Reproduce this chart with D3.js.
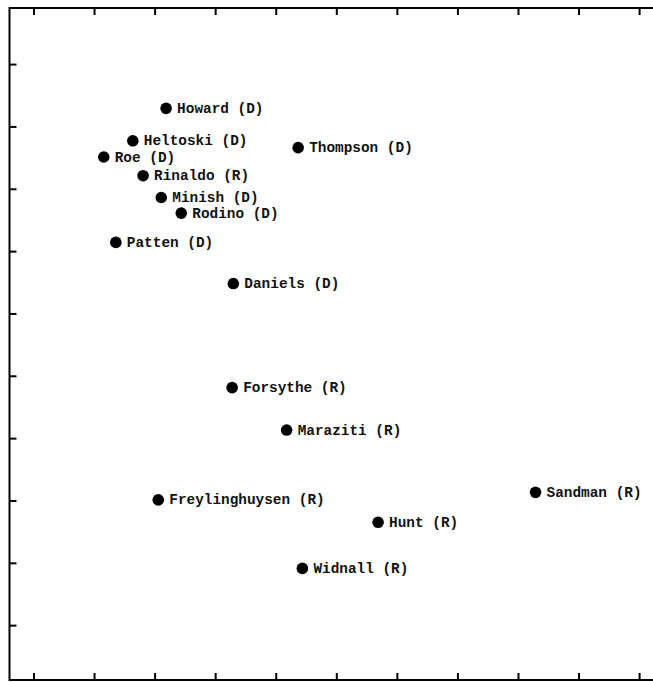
<!DOCTYPE html>
<html>
<head>
<meta charset="utf-8">
<script src="https://cdn.jsdelivr.net/npm/d3@7"></script>
<style>
  html, body { margin: 0; padding: 0; background: #fff; }
  svg { display: block; }
</style>
</head>
<body>
<svg id="chart" width="653" height="682"></svg>
<script>
// Legislators placed on two scaled dimensions
const names = ["Howard", "Heltoski", "Roe", "Thompson", "Rinaldo", "Minish", "Rodino",
  "Patten", "Daniels", "Forsythe", "Maraziti", "Sandman", "Freylinghuysen", "Hunt", "Widnall"];
const parties = ["D", "D", "D", "D", "R", "D", "D", "D", "D", "R", "R", "R", "R", "R", "R"];
const dim1 = [2.19, 1.64, 1.16, 4.37, 1.81, 2.11, 2.44, 1.36, 3.30, 3.28, 4.18, 8.29, 2.06, 5.69, 4.44];
const dim2 = [8.29, 7.77, 7.51, 7.66, 7.21, 6.86, 6.61, 6.14, 5.48, 3.81, 3.13, 2.13, 2.01, 1.65, 0.91];
const xTicks = [0, 1, 2, 3, 4, 5, 6, 7, 8, 9, 10];
const yTicks = [0, 1, 2, 3, 4, 5, 6, 7, 8, 9];

const svg = d3.select("#chart");
const plotLeft = 9.5, plotTop = 8, plotRight = 681.5, plotBottom = 680;

const x = d3.scaleLinear().domain([-0.396, 10.70]).range([plotLeft, plotRight]);
const y = d3.scaleLinear().domain([-0.88, 9.9]).range([plotBottom, plotTop]);

const tickLen = 7;

// frame lines
svg.append("rect")
  .attr("x", plotLeft).attr("y", plotTop)
  .attr("width", plotRight - plotLeft).attr("height", plotBottom - plotTop)
  .attr("fill", "none").attr("stroke", "#000").attr("stroke-width", 2);

// inward ticks via axes
const axBottom = d3.axisTop(x).tickValues(xTicks).tickSize(tickLen).tickFormat("");
const axTop = d3.axisBottom(x).tickValues(xTicks).tickSize(tickLen).tickFormat("");
const axLeft = d3.axisRight(y).tickValues(yTicks).tickSize(tickLen).tickFormat("");

function styleAxis(g) {
  g.select(".domain").remove();
  g.selectAll(".tick line").attr("stroke", "#000").attr("stroke-width", 2);
}
svg.append("g").attr("transform", `translate(0,${plotBottom})`).call(axBottom).call(styleAxis);
svg.append("g").attr("transform", `translate(0,${plotTop})`).call(axTop).call(styleAxis);
svg.append("g").attr("transform", `translate(${plotLeft},0)`).call(axLeft).call(styleAxis);

// points and labels
const rows = names.map((n, i) => ({ name: n, party: parties[i], a: dim1[i], b: dim2[i] }));
const pts = svg.append("g").selectAll("g").data(rows).join("g")
  .attr("transform", d => `translate(${x(d.a)},${y(d.b)})`);

pts.append("circle").attr("r", 5.8).attr("fill", "#000");
pts.append("text")
  .attr("x", 11).attr("dy", "0.32em")
  .attr("font-family", "'Liberation Mono', 'DejaVu Sans Mono', monospace")
  .attr("font-size", 14.4)
  .attr("font-weight", "bold")
  .attr("fill", "#111")
  .text(d => `${d.name} (${d.party})`);
</script>
</body>
</html>
